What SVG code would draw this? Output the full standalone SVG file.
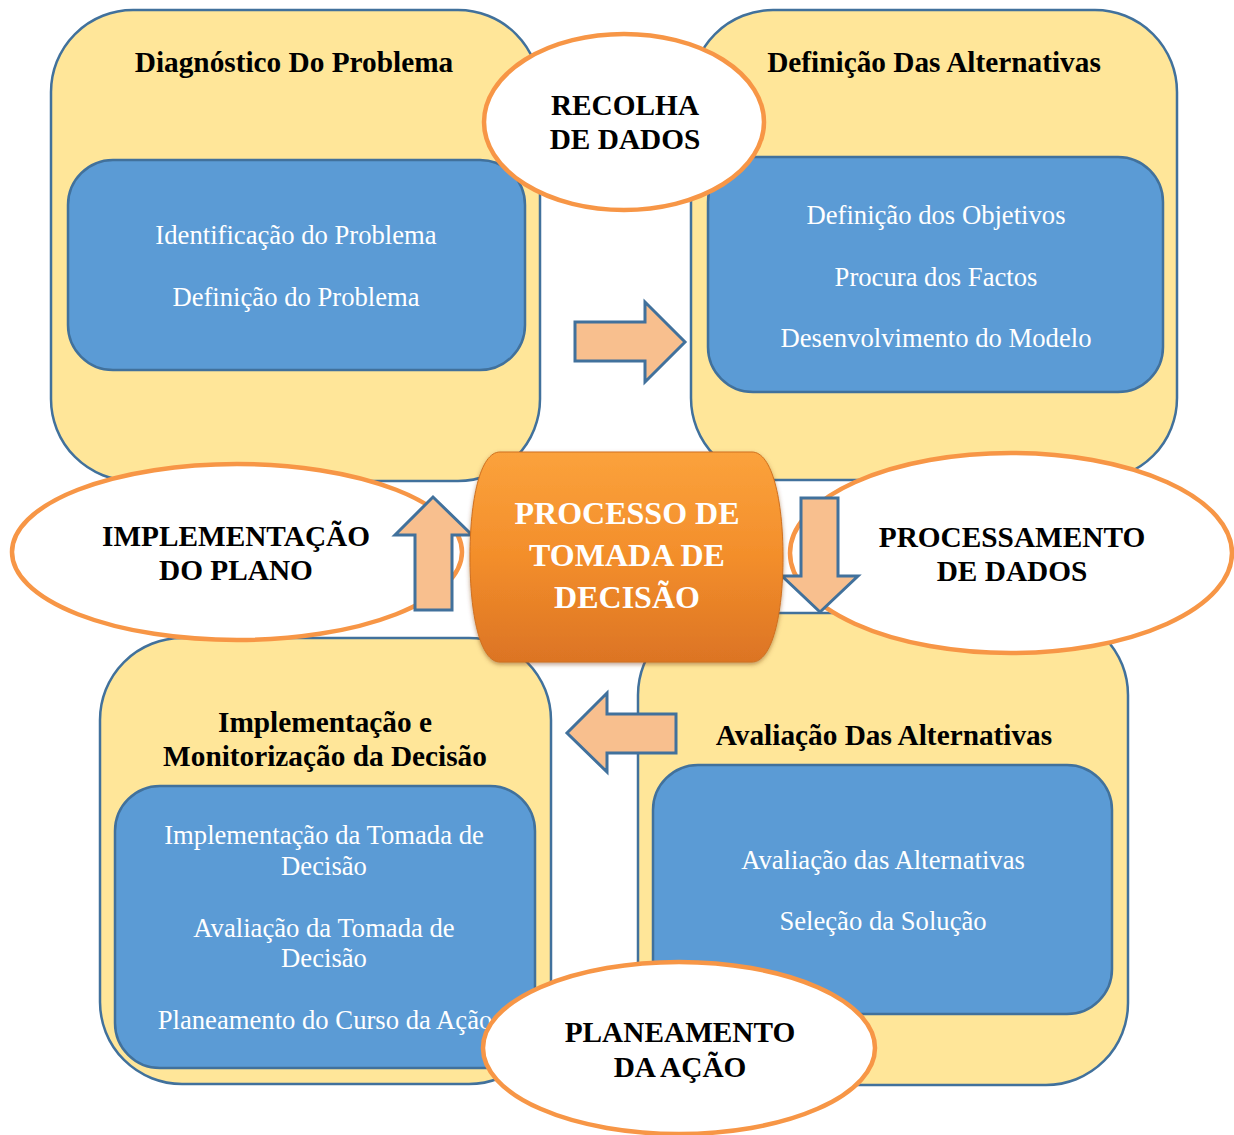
<svg xmlns="http://www.w3.org/2000/svg" width="1234" height="1135" viewBox="0 0 1234 1135">
<style>
.yel{fill:#ffe699;stroke:#41719c;stroke-width:2.5}
.blu{fill:#5b9bd5;stroke:#41719c;stroke-width:2.5}
.ell{fill:#ffffff;stroke:#f79646;stroke-width:4.5}
.arr{fill:#f8bf8e;stroke:#41719c;stroke-width:3;stroke-linejoin:miter}
.h{font-family:"Liberation Serif","Times New Roman",serif;font-weight:bold;font-size:29.3px;fill:#000;text-anchor:middle}
.t{font-family:"Liberation Serif","Times New Roman",serif;font-size:26.67px;fill:#ffffff;text-anchor:middle}
.c{font-family:"Liberation Serif","Times New Roman",serif;font-weight:bold;font-size:32px;fill:#ffffff;text-anchor:middle}
</style>
<defs>
<linearGradient id="og" x1="0" y1="0" x2="0" y2="1">
<stop offset="0" stop-color="#fba23c"/>
<stop offset="0.5" stop-color="#f38e2b"/>
<stop offset="1" stop-color="#dc7424"/>
</linearGradient>
<filter id="sh" x="-10%" y="-10%" width="120%" height="125%">
<feDropShadow dx="0" dy="2" stdDeviation="2" flood-color="#7a3d10" flood-opacity="0.5"/>
</filter>
</defs>
<rect width="1234" height="1135" fill="#ffffff"/>

<g id="box-diagnostico">
<rect class="yel" x="51" y="10" width="489" height="471" rx="82" ry="82"/>
<rect class="blu" x="68" y="160" width="457" height="210" rx="45" ry="45"/>
<text class="h" x="294" y="72">Diagnóstico Do Problema</text>
<text class="t" x="296" y="244">Identificação do Problema</text>
<text class="t" x="296" y="306">Definição do Problema</text>
</g>

<g id="box-definicao">
<rect class="yel" x="691" y="10" width="486" height="470" rx="82" ry="82"/>
<rect class="blu" x="708" y="157" width="455" height="235" rx="45" ry="45"/>
<text class="h" x="934" y="72">Definição Das Alternativas</text>
<text class="t" x="936" y="224">Definição dos Objetivos</text>
<text class="t" x="936" y="286">Procura dos Factos</text>
<text class="t" x="936" y="347">Desenvolvimento do Modelo</text>
</g>

<g id="box-avaliacao">
<rect class="yel" x="638" y="613" width="490" height="472" rx="82" ry="82"/>
<rect class="blu" x="653" y="765" width="459" height="249" rx="45" ry="45"/>
<text class="h" x="884" y="745">Avaliação Das Alternativas</text>
<text class="t" x="883" y="869">Avaliação das Alternativas</text>
<text class="t" x="883" y="930">Seleção da Solução</text>
</g>

<g id="box-implementacao">
<rect class="yel" x="100" y="638" width="451" height="446" rx="82" ry="82"/>
<rect class="blu" x="115" y="786" width="420" height="282" rx="45" ry="45"/>
<text class="h" x="325" y="732">Implementação e</text>
<text class="h" x="325" y="766">Monitorização da Decisão</text>
<text class="t" x="324" y="844">Implementação da Tomada de</text>
<text class="t" x="324" y="875">Decisão</text>
<text class="t" x="324" y="937">Avaliação da Tomada de</text>
<text class="t" x="324" y="967">Decisão</text>
<text class="t" x="325" y="1029">Planeamento do Curso da Ação</text>
</g>

<g id="ell-recolha">
<ellipse class="ell" cx="624" cy="122" rx="140" ry="88"/>
<text class="h" x="625" y="115">RECOLHA</text>
<text class="h" x="625" y="149">DE DADOS</text>
</g>

<g id="ell-implementacao">
<ellipse class="ell" cx="237" cy="552" rx="225" ry="88"/>
<text class="h" x="236" y="546">IMPLEMENTAÇÃO</text>
<text class="h" x="236" y="580">DO PLANO</text>
</g>

<g id="ell-processamento">
<ellipse class="ell" cx="1011" cy="553" rx="221" ry="100"/>
<text class="h" x="1012" y="547">PROCESSAMENTO</text>
<text class="h" x="1012" y="581">DE DADOS</text>
</g>

<g id="ell-planeamento">
<ellipse class="ell" cx="679" cy="1048" rx="196" ry="86"/>
<text class="h" x="680" y="1042">PLANEAMENTO</text>
<text class="h" x="680" y="1077">DA AÇÃO</text>
</g>

<g id="connectors">
<polygon class="arr" points="575,322 645,322 645,302 685,342 645,382 645,361 575,361"/>
<polygon class="arr" points="801,498 838,498 838,576 858,576 820,612 782,576 801,576"/>
<polygon class="arr" points="676,714 607,714 607,693 567,733 607,772 607,753 676,753"/>
<polygon class="arr" points="415,610 415,535 395,535 433,497 472,535 452,535 452,610"/>
</g>

<g id="center">
<path d="M 500,452 L 752,452 C 772,452 783,500 783,557 C 783,615 772,662 752,662 L 500,662 C 480,662 470,615 470,557 C 470,500 480,452 500,452 Z" fill="url(#og)" stroke="#d0701f" stroke-width="1" filter="url(#sh)"/>
<text class="c" x="627" y="524">PROCESSO DE</text>
<text class="c" x="627" y="566">TOMADA DE</text>
<text class="c" x="627" y="608">DECISÃO</text>
</g>
</svg>
